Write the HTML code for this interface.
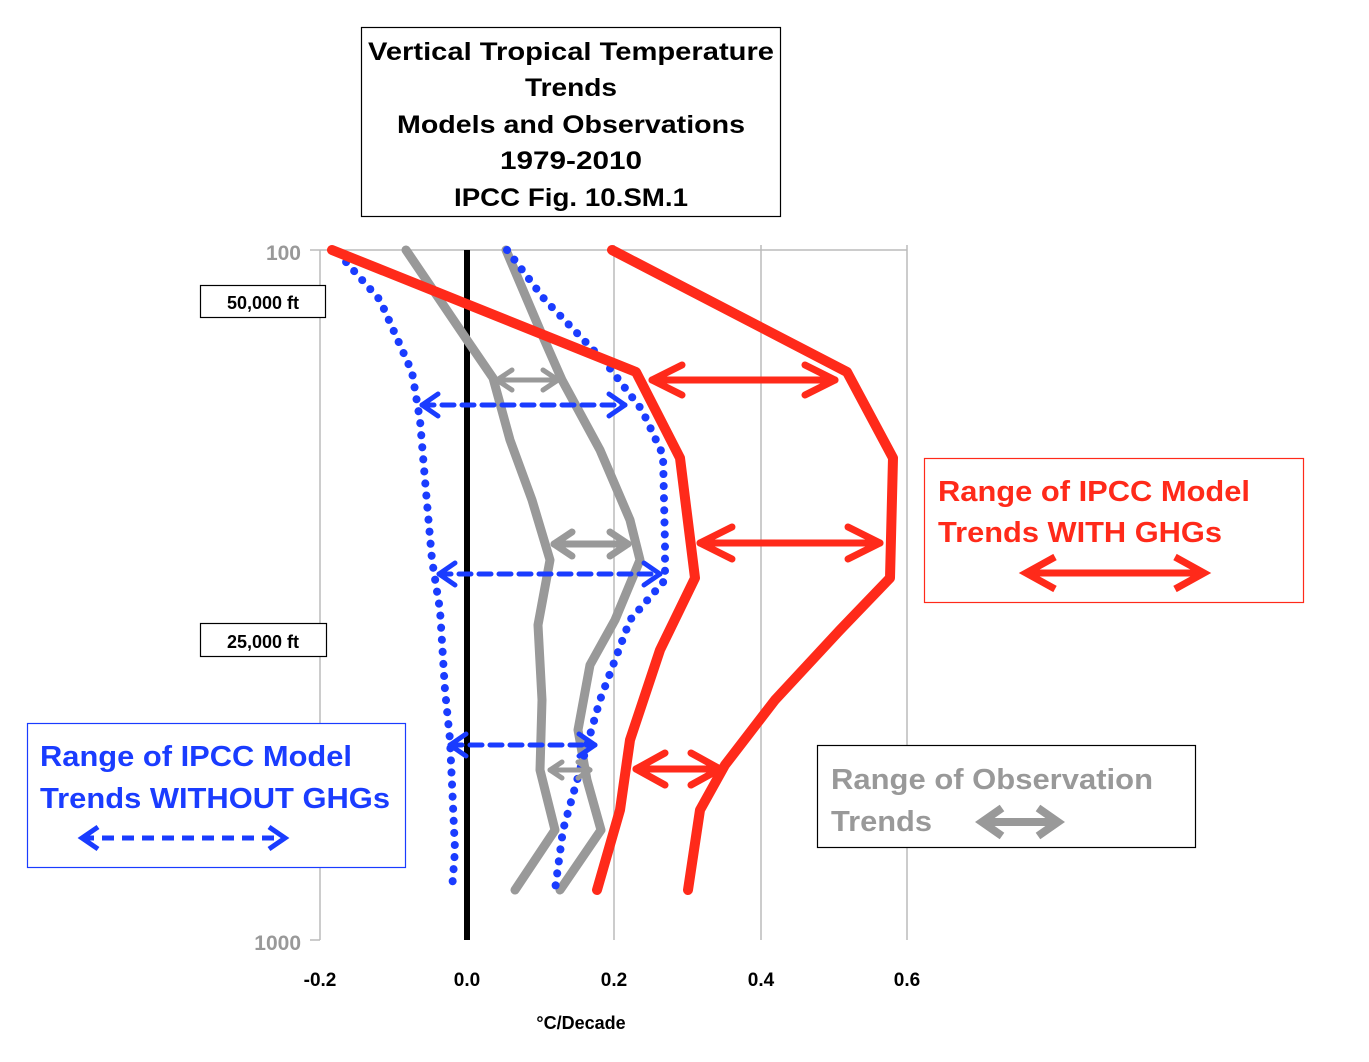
<!DOCTYPE html>
<html><head><style>
body{margin:0;background:#fff;}
svg text{font-family:"Liberation Sans",sans-serif;font-weight:bold;}
</style></head><body>
<svg width="1369" height="1057" viewBox="0 0 1369 1057" xmlns="http://www.w3.org/2000/svg">
<!-- grid -->
<line x1="310" y1="250" x2="907" y2="250" stroke="#bbb" stroke-width="1.5"/>
<line x1="320" y1="250" x2="320" y2="940" stroke="#bbb" stroke-width="1.5"/>
<line x1="310" y1="940" x2="320" y2="940" stroke="#bbb" stroke-width="1.5"/>
<line x1="614" y1="245" x2="614" y2="940" stroke="#bbb" stroke-width="1.5"/>
<line x1="761" y1="245" x2="761" y2="940" stroke="#bbb" stroke-width="1.5"/>
<line x1="907" y1="245" x2="907" y2="940" stroke="#bbb" stroke-width="1.5"/>
<line x1="467" y1="250" x2="467" y2="940" stroke="#000" stroke-width="6"/>
<!-- axis labels -->
<g font-size="21" fill="#999" text-anchor="end">
<text x="301" y="260">100</text><text x="301" y="950">1000</text></g>
<g font-size="19" fill="#000" text-anchor="middle">
<text x="320" y="986">-0.2</text><text x="467" y="986">0.0</text><text x="614" y="986">0.2</text><text x="761" y="986">0.4</text><text x="907" y="986">0.6</text>
<text x="581" y="1029" font-size="18">°C/Decade</text></g>
<!-- series -->
<g fill="none" stroke-linejoin="round" stroke-linecap="round">
<polyline stroke="#999" stroke-width="9" points="406,250 467,340 493,378 510,440 532,500 550,560 538,625 542,700 540,770 555,830 515,890"/>
<polyline stroke="#999" stroke-width="9" points="506,250 540,330 562,380 600,450 630,520 640,560 615,620 590,665 578,730 587,780 601,830 560,890"/>
<polyline stroke="#1a3cff" stroke-width="8" stroke-dasharray="0.1 12" points="338,253 380,300 412,372 420,420 425,480 432,560 440,610 445,690 450,740 455,850 452,890"/>
<polyline stroke="#1a3cff" stroke-width="8" stroke-dasharray="0.1 12" points="507,250 545,300 605,362 642,410 663,455 665,545 665,580 630,620 600,700 580,770 563,830 555,890"/>
<polyline stroke="#ff2a1a" stroke-width="10" points="332,250 636,372 680,458 695,578 660,650 630,740 620,810 597,890"/>
<polyline stroke="#ff2a1a" stroke-width="10" points="612,250 847,372 893,458 890,578 840,630 775,700 725,765 700,810 688,890"/>
<!-- red arrows -->
<g stroke="#ff2a1a" stroke-width="7">
<line x1="652" y1="380" x2="835" y2="380"/><polyline points="682,365 652,380 682,395"/><polyline points="805,365 835,380 805,395"/>
<line x1="700" y1="543" x2="880" y2="543"/><polyline points="732,527 700,543 732,559"/><polyline points="848,527 880,543 848,559"/>
<line x1="636" y1="769" x2="720" y2="769"/><polyline points="665,753 636,769 665,785"/><polyline points="691,753 720,769 691,785"/>
</g>
<!-- gray arrows -->
<g stroke="#999" stroke-width="5">
<line x1="497" y1="380" x2="558" y2="380"/><polyline points="512,370 497,380 512,390"/><polyline points="543,370 558,380 543,390"/>
<g stroke-width="7"><line x1="554" y1="544" x2="628" y2="544"/><polyline points="572,532 554,544 572,556"/><polyline points="610,532 628,544 610,556"/></g>
<line x1="550" y1="770" x2="590" y2="770"/><polyline points="562,762 550,770 562,778"/><polyline points="578,762 590,770 578,778"/>
</g>
<!-- blue dashed arrows -->
<g stroke="#1a3cff" stroke-width="5">
<line x1="422" y1="405" x2="625" y2="405" stroke-dasharray="12 8"/><polyline points="438,394 422,405 438,416"/><polyline points="609,394 625,405 609,416"/>
<line x1="439" y1="574" x2="660" y2="574" stroke-dasharray="12 8"/><polyline points="455,563 439,574 455,585"/><polyline points="644,563 660,574 644,585"/>
<line x1="450" y1="745" x2="595" y2="745" stroke-dasharray="12 8"/><polyline points="466,734 450,745 466,756"/><polyline points="579,734 595,745 579,756"/>
</g>
</g>
<!-- boxes -->
<rect x="361.5" y="27.5" width="419" height="189" fill="#fff" stroke="#000" stroke-width="1.2"/>
<g font-size="25" text-anchor="middle" fill="#000">
<text x="571" y="60" textLength="406" lengthAdjust="spacingAndGlyphs">Vertical Tropical Temperature</text>
<text x="571" y="96" textLength="92" lengthAdjust="spacingAndGlyphs">Trends</text>
<text x="571" y="133" textLength="348" lengthAdjust="spacingAndGlyphs">Models and Observations</text>
<text x="571" y="169" textLength="142" lengthAdjust="spacingAndGlyphs">1979-2010</text>
<text x="571" y="206" textLength="234" lengthAdjust="spacingAndGlyphs">IPCC Fig. 10.SM.1</text></g>
<rect x="200.5" y="285.5" width="125" height="32" fill="#fff" stroke="#000" stroke-width="1.2"/>
<text x="263" y="309" font-size="18" text-anchor="middle">50,000 ft</text>
<rect x="200.5" y="623.5" width="126" height="33" fill="#fff" stroke="#000" stroke-width="1.2"/>
<text x="263" y="648" font-size="18" text-anchor="middle">25,000 ft</text>
<rect x="27.5" y="723.5" width="378" height="144" fill="#fff" stroke="#1a3cff" stroke-width="1.2"/>
<g font-size="29" fill="#1a3cff"><text x="40" y="766" textLength="312" lengthAdjust="spacingAndGlyphs">Range of IPCC Model</text><text x="40" y="808" textLength="350" lengthAdjust="spacingAndGlyphs">Trends WITHOUT GHGs</text></g>
<rect x="924.5" y="458.5" width="379" height="144" fill="#fff" stroke="#ff2a1a" stroke-width="1.2"/>
<g font-size="29" fill="#ff2a1a"><text x="938" y="501" textLength="312" lengthAdjust="spacingAndGlyphs">Range of IPCC Model</text><text x="938" y="542" textLength="284" lengthAdjust="spacingAndGlyphs">Trends WITH GHGs</text></g>
<g stroke="#ff2a1a" stroke-width="7" fill="none"><line x1="1026" y1="573" x2="1204" y2="573"/><polyline points="1055,557 1026,573 1055,589"/><polyline points="1175,557 1204,573 1175,589"/></g>
<rect x="817.5" y="745.5" width="378" height="102" fill="#fff" stroke="#000" stroke-width="1.2"/>
<g font-size="29" fill="#999"><text x="831" y="789" textLength="322" lengthAdjust="spacingAndGlyphs">Range of Observation</text><text x="831" y="831" textLength="101" lengthAdjust="spacingAndGlyphs">Trends</text></g>
<g stroke="#999" stroke-width="8" fill="none"><line x1="982" y1="822" x2="1058" y2="822"/><polyline points="1002,808 982,822 1002,836"/><polyline points="1038,808 1058,822 1038,836"/></g>
<g stroke="#1a3cff" stroke-width="5" fill="none"><line x1="82" y1="838" x2="285" y2="838" stroke-dasharray="12 8"/><polyline points="98,827 82,838 98,849"/><polyline points="269,827 285,838 269,849"/></g>
</svg>
</body></html>
